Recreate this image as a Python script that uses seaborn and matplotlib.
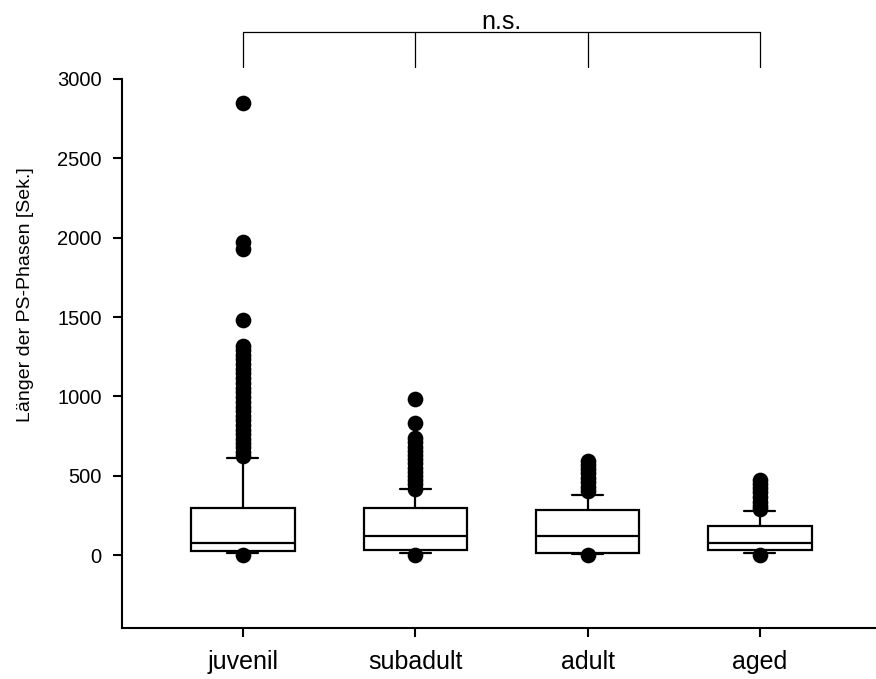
import matplotlib
matplotlib.use("Agg")
import matplotlib.pyplot as plt
import numpy as np
import pandas as pd
import seaborn as sns

# Five-number summaries per age group (seconds)
groups = ["juvenil", "subadult", "adult", "aged"]
whisker_low = [10, 15, 6, 15]
q1 = [25, 31, 15, 31]
median = [78, 122, 122, 73]
q3 = [294, 294, 283, 185]
whisker_high = [610, 414, 376, 279]

# Points outside the whiskers
outliers_juvenil = [0, 624, 650, 678, 705, 733, 760, 790, 818, 848, 878, 905,
                    935, 965, 995, 1025, 1055, 1085, 1115, 1145, 1175, 1205,
                    1235, 1262, 1292, 1320, 1481, 1926, 1970, 2850]
outliers_subadult = [0, 419, 445, 470, 497, 523, 550, 577, 603, 630, 657, 683,
                     712, 740, 830, 981]
outliers_adult = [0, 404, 430, 458, 487, 515, 545, 570, 593]
outliers_aged = [0, 290, 312, 337, 365, 395, 425, 450, 472]

y_ticks = [0, 500, 1000, 1500, 2000, 2500, 3000]
y_label = "Länger der PS-Phasen [Sek.]"
significance = "n.s."

sns.set_style("ticks")
plt.rcParams["font.family"] = ["Liberation Sans", "DejaVu Sans"]
plt.rcParams["text.color"] = "black"
plt.rcParams["axes.labelcolor"] = "black"

summary = pd.DataFrame({
    "Gruppe": np.repeat(groups, 5),
    "Dauer": np.ravel(np.column_stack([whisker_low, q1, median, q3, whisker_high])),
})
fliers = pd.DataFrame({
    "Gruppe": (["juvenil"] * len(outliers_juvenil) + ["subadult"] * len(outliers_subadult)
               + ["adult"] * len(outliers_adult) + ["aged"] * len(outliers_aged)),
    "Dauer": outliers_juvenil + outliers_subadult + outliers_adult + outliers_aged,
})

fig = plt.figure(figsize=(8.76, 6.79), dpi=100)
ax = fig.add_axes([122 / 876, 1 - 628 / 679, 1 - 122 / 876, (628 - 79) / 679])

box_w = 0.6
n_before = len(ax.lines)
sns.boxplot(data=summary, x="Gruppe", y="Dauer", order=groups, width=box_w,
            whis=1.5, showfliers=False, color="white", saturation=1,
            linecolor="black", linewidth=1.6, ax=ax)

# narrower whisker caps
for line in ax.lines[n_before:]:
    xd = np.asarray(line.get_xdata(), dtype=float)
    yd = np.asarray(line.get_ydata(), dtype=float)
    if len(xd) == 2 and yd[0] == yd[1] and abs(abs(xd[1] - xd[0]) - 0.5 * box_w) < 1e-6:
        c = xd.mean()
        line.set_xdata([c - 0.09, c + 0.09])

sns.stripplot(data=fliers, x="Gruppe", y="Dauer", order=groups, jitter=False,
              color="black", size=11.3, linewidth=0, ax=ax, zorder=3)

ax.set_xlim(-0.702, 3.674)
ax.set_ylim(-460, 3000)
ax.set_yticks(y_ticks)
ax.set_yticklabels([str(t) for t in y_ticks])
ax.set_xlabel("")
ax.set_ylabel(y_label, fontsize=14, va="center", color="black")
ax.yaxis.set_label_coords(-0.128, 0.607)

sns.despine(ax=ax)
for side in ("left", "bottom"):
    ax.spines[side].set_linewidth(1.5)
    ax.spines[side].set_color("black")
ax.tick_params(axis="both", direction="out", length=6.5, width=1.5, color="black",
               labelcolor="black")
ax.tick_params(axis="y", labelsize=14.5, pad=8)
ax.tick_params(axis="x", labelsize=18, pad=9)

# significance bracket across all groups
top, foot = 3296, 3076
ax.plot([0, 3], [top, top], color="black", lw=0.9, clip_on=False)
for i in range(len(groups)):
    ax.plot([i, i], [foot, top], color="black", lw=0.9, clip_on=False)
ax.text(1.5, 3318, significance, ha="center", va="baseline", fontsize=18,
        color="black")

fig.savefig("out.png", dpi=100)
